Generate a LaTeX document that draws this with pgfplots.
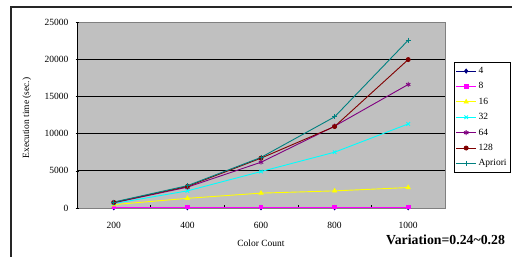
\documentclass[border=0pt]{standalone}
\usepackage{pgfplots}
\pgfplotsset{compat=1.18}
\usepackage{fontspec}
\setmainfont{Liberation Serif}
\definecolor{xlgray}{RGB}{192,192,192}
\definecolor{xdgray}{RGB}{128,128,128}
\definecolor{xnavy}{RGB}{0,0,128}
\definecolor{xmag}{RGB}{255,0,255}
\definecolor{xyel}{RGB}{255,255,0}
\definecolor{xcyan}{RGB}{0,255,255}
\definecolor{xpurp}{RGB}{128,0,128}
\definecolor{xdred}{RGB}{128,0,0}
\definecolor{xteal}{RGB}{0,128,128}
\begin{document}
\begin{tikzpicture}[x=1pt,y=1pt]
\path[use as bounding box] (0,0) rectangle (512,257);
\draw[line width=1.3pt,black!85] (11,-5) -- (11,250) -- (520,250);
\begin{axis}[
  at={(77pt,49pt)}, anchor=south west,
  scale only axis, width=368pt, height=186pt,
  xmin=100, xmax=1100, ymin=0, ymax=25000,
  xtick={200,400,600,800,1000},
  minor xtick={300,500,700,900},
  major tick length=0pt,
  minor tick length=2.5pt,
  xtick pos=lower, ytick pos=left,
  ytick={0,5000,10000,15000,20000,25000},
  extra y ticks={0,5000,10000,15000,20000,25000},
  extra y tick labels={},
  extra y tick style={tick style={black}, major tick length=3pt, xshift=-1.5pt, grid=none},
  ymajorgrids, grid style={black, line width=0.6pt},
  scaled y ticks=false,
  /pgf/number format/1000 sep={},
  /pgf/number format/assume math mode=true,
  tick label style={font=\fontsize{9.5}{10}\selectfont},
  xticklabel style={anchor=center, yshift=-17pt},
  yticklabel style={anchor=east, xshift=-5pt},
  minor tick style={black, line width=0.6pt},
  axis background/.style={fill=xlgray},
  axis line style={xdgray, line width=0.8pt},
  xlabel={Color Count},
  xlabel style={font=\fontsize{9.5}{10}\selectfont, at={(axis description cs:0.5,-0.188)}, anchor=center},
  ylabel={Execution time (sec.)},
  ylabel style={font=\fontsize{9.5}{10}\selectfont, at={(axis description cs:-0.136,0.484)}, anchor=center},
  legend style={at={(axis description cs:1.0245,0.785)}, anchor=north west, draw=black, fill=white,
    font=\fontsize{9.5}{10}\selectfont, inner xsep=1.5pt, inner ysep=3pt, row sep=3.6pt},
  legend cell align=left,
  legend image code/.code={\draw[#1, mark=none] (0pt,0pt) -- (20pt,0pt);
    \draw[#1, only marks] plot coordinates {(10pt,0pt)};},
  every axis plot/.append style={line width=0.9pt, mark size=2pt},
]
\addplot[color=xnavy, mark=diamond*] coordinates {(200,40) (400,40) (600,40) (800,40) (1000,40)};
\addlegendentry{4}
\addplot[color=xmag, mark=square*, mark size=1.8pt] coordinates {(200,120) (400,120) (600,120) (800,120) (1000,120)};
\addlegendentry{8}
\addplot[color=xyel, mark=triangle*, mark size=2.3pt] coordinates {(200,450) (400,1300) (600,2000) (800,2300) (1000,2750)};
\addlegendentry{16}
\addplot[color=xcyan, mark=x, mark size=2.5pt] coordinates {(200,600) (400,2300) (600,4900) (800,7500) (1000,11300)};
\addlegendentry{32}
\addplot[color=xpurp, mark=asterisk, mark size=2.5pt] coordinates {(200,700) (400,2800) (600,6150) (800,11000) (1000,16600)};
\addlegendentry{64}
\addplot[color=xdred, mark=*] coordinates {(200,750) (400,2900) (600,6700) (800,10950) (1000,19950)};
\addlegendentry{128}
\addplot[color=xteal, mark=+, mark size=2.5pt] coordinates {(200,800) (400,3000) (600,6800) (800,12250) (1000,22550)};
\addlegendentry{Apriori}
\draw[black, line width=0.8pt] (rel axis cs:0,1) -- (rel axis cs:0,0) -- (rel axis cs:1,0);
\end{axis}
\node[font=\bfseries\fontsize{13.8}{15}\selectfont] at (445.5,17) {Variation=0.24\textasciitilde 0.28};
\end{tikzpicture}
\end{document}
